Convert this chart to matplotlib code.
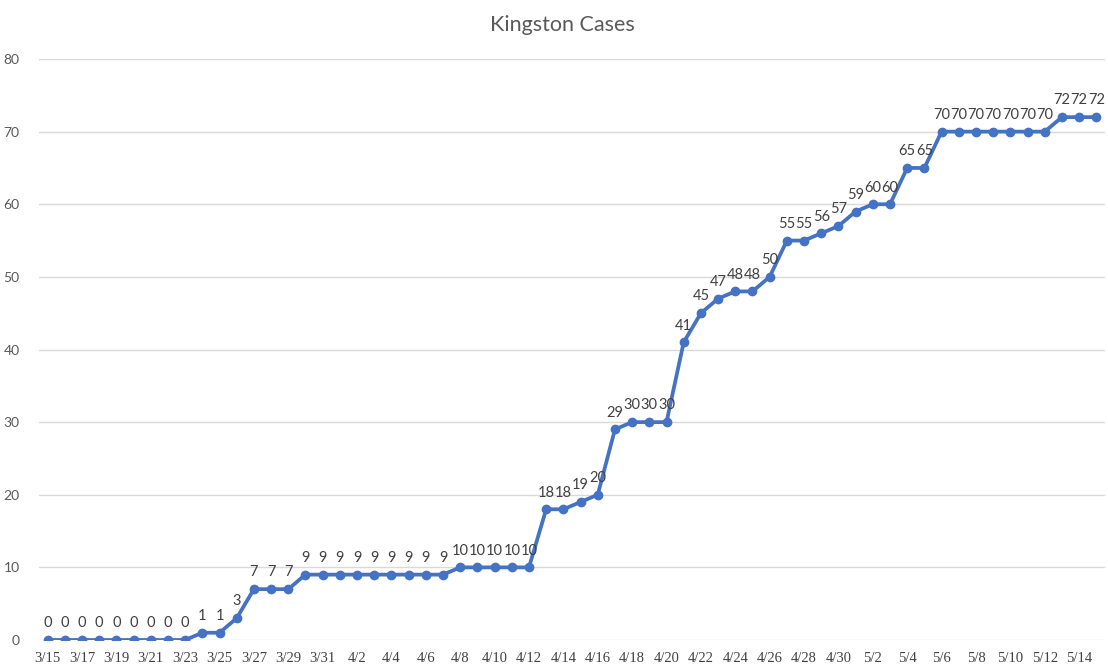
import datetime as dt
import matplotlib
matplotlib.use('Agg')
import matplotlib.pyplot as plt

# -- data
start = dt.date(2020, 3, 15)
cases = [0, 0, 0, 0, 0, 0, 0, 0, 0,          # 3/15 - 3/23
         1, 1, 3, 7, 7, 7,                   # 3/24 - 3/29
         9, 9, 9, 9, 9, 9, 9, 9, 9,          # 3/30 - 4/7
         10, 10, 10, 10, 10,                 # 4/8 - 4/12
         18, 18, 19, 20, 29, 30, 30, 30,     # 4/13 - 4/20
         41, 45, 47, 48, 48, 50, 55, 55,     # 4/21 - 4/28
         56, 57, 59, 60, 60, 65, 65,         # 4/29 - 5/5
         70, 70, 70, 70, 70, 70, 70,         # 5/6 - 5/12
         72, 72, 72]                         # 5/13 - 5/15
dates = [start + dt.timedelta(days=i) for i in range(len(cases))]
labels = ['%d/%d' % (d.month, d.day) for d in dates]

# -- plot
fig = plt.figure(figsize=(11.08, 6.67), dpi=100)
ax = fig.add_axes([0.0352, 0.0405, 0.962, 0.871])

x = list(range(len(cases)))
ax.plot(x, cases, color='#4472C4', lw=2.7, marker='o', ms=6, zorder=3)

for xi, yi in zip(x, cases):
    ax.annotate(str(yi), (xi, yi), xytext=(0, 7), textcoords='offset points',
                ha='center', va='bottom', fontsize=10.5, color='#404040',
                family='Lato')

ax.set_xlim(-0.5, len(cases) - 0.5)
ax.set_ylim(0, 80)
ax.set_yticks(range(0, 81, 10))
ax.set_xticks(x[::2])
ax.set_xticklabels(labels[::2], family='Liberation Serif', fontsize=10.5, color='#404040')
ax.set_yticklabels([str(v) for v in range(0, 81, 10)], family='Lato')
ax.tick_params(axis='y', labelsize=10, labelcolor='#595959', pad=14)
ax.tick_params(axis='x', pad=9)
ax.tick_params(length=0)

ax.grid(axis='y', color='#d9d9d9', lw=1)
ax.set_axisbelow(True)
for s in ax.spines.values():
    s.set_visible(False)

fig.suptitle('Kingston Cases', x=0.508, y=0.978, fontsize=15.5, color='#595959', family='Lato')

fig.savefig('out.png', dpi=100)
